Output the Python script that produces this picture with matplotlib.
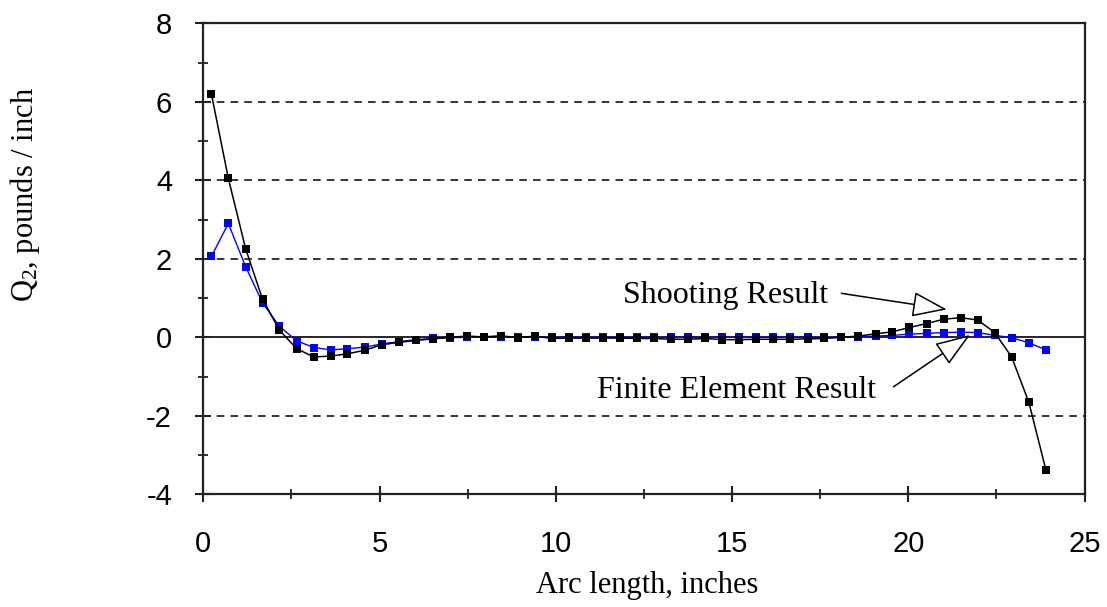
import matplotlib
matplotlib.use("Agg")
import matplotlib.pyplot as plt
from matplotlib.ticker import MultipleLocator

plt.rcParams['mathtext.fontset'] = 'custom'
plt.rcParams['mathtext.rm'] = 'Liberation Serif'
plt.rcParams['mathtext.it'] = 'Liberation Serif:italic'
plt.rcParams['axes.unicode_minus'] = False

# Arc length positions (inches)
arc_length = [0.23, 0.71, 1.20, 1.68, 2.16, 2.65, 3.13, 3.61, 4.09, 4.58,
              5.06, 5.54, 6.03, 6.51, 6.99, 7.48, 7.96, 8.44, 8.92, 9.41,
              9.89, 10.37, 10.86, 11.34, 11.82, 12.31, 12.79, 13.27, 13.75, 14.24,
              14.72, 15.20, 15.69, 16.17, 16.65, 17.14, 17.62, 18.10, 18.58, 19.07,
              19.55, 20.03, 20.52, 21.00, 21.48, 21.97, 22.45, 22.93, 23.42, 23.90]

# Shooting result (black)
shooting = [6.20, 4.05, 2.26, 0.97, 0.18, -0.29, -0.50, -0.48, -0.42, -0.33,
            -0.19, -0.13, -0.08, -0.04, 0.00, 0.03, 0.01, 0.04, -0.01, 0.03,
            -0.03, -0.02, -0.02, -0.02, -0.02, -0.03, -0.03, -0.05, -0.05, -0.03,
            -0.06, -0.06, -0.05, -0.05, -0.05, -0.04, -0.03, 0.00, 0.03, 0.09,
            0.14, 0.25, 0.35, 0.46, 0.50, 0.44, 0.12, -0.50, -1.66, -3.37]

# Finite element result (blue)
finite_element = [2.06, 2.90, 1.80, 0.88, 0.28, -0.09, -0.26, -0.32, -0.29, -0.25,
                  -0.17, -0.11, -0.06, -0.03, -0.01, 0.00, 0.00, 0.00, 0.00, 0.00,
                  0.00, 0.00, 0.00, 0.00, 0.00, 0.00, 0.00, 0.00, 0.00, 0.00,
                  0.00, 0.00, 0.00, 0.00, 0.00, 0.00, 0.00, 0.00, 0.01, 0.03,
                  0.05, 0.08, 0.10, 0.12, 0.13, 0.12, 0.05, -0.01, -0.14, -0.32]

x_ticks = [0, 5, 10, 15, 20, 25]
y_ticks = [-4, -2, 0, 2, 4, 6, 8]
dashed_levels = [-2, 2, 4, 6]

fig = plt.figure(figsize=(11.07, 6.07), dpi=100)
ax = fig.add_axes([203.3 / 1107, 1 - 494.3 / 607, (1084.6 - 203.3) / 1107, (494.3 - 23.3) / 607])

for lv in dashed_levels:
    ax.axhline(lv, color='black', lw=1.1, ls=(0, (5, 4)), zorder=1)
ax.axhline(0, color='black', lw=1.2, zorder=1)

ax.plot(arc_length, finite_element, color='#0000ff', lw=1.0, marker='s',
        markersize=5.8, markeredgewidth=0, zorder=3)
ax.plot(arc_length, shooting, color='black', lw=1.1, marker='s',
        markersize=5.8, markeredgewidth=0, zorder=4)

ax.set_xlim(0, 25)
ax.set_ylim(-4, 8)
ax.set_xticks(x_ticks)
ax.set_yticks(y_ticks)
ax.xaxis.set_minor_locator(MultipleLocator(2.5))
ax.yaxis.set_minor_locator(MultipleLocator(1))

for s in ax.spines.values():
    s.set_linewidth(1.6)
    s.set_color('#222222')

ax.tick_params(axis='both', which='major', direction='inout', length=11, width=1.5, colors='#222222')
ax.tick_params(axis='both', which='minor', direction='inout', length=7, width=1.3, colors='#222222')
ax.tick_params(axis='x', which='major', pad=20, labelsize=21)
ax.tick_params(axis='y', which='major', pad=17, labelsize=21)
for lab in ax.get_xticklabels() + ax.get_yticklabels():
    lab.set_fontfamily('Liberation Sans')
    lab.set_color('black')

fig.text(646.7 / 1107, 1 - 592.7 / 607, 'Arc length, inches', ha='center', va='baseline',
         fontsize=22, family='Liberation Serif')
fig.text(25 / 1107, 1 - 195 / 607, r'Q$_\mathrm{2}$, pounds / inch', ha='center', va='center',
         rotation=90, fontsize=22, family='Liberation Serif')

ax.text(11.9, 0.87, 'Shooting Result', ha='left', va='baseline', fontsize=23,
        family='Liberation Serif')
ax.text(11.17, -1.55, 'Finite Element Result', ha='left', va='baseline', fontsize=23,
        family='Liberation Serif')

arrow_kw = dict(arrowstyle='-|>,head_length=2.2,head_width=0.8', fc='white', ec='black',
                lw=1.1, mutation_scale=10, shrinkA=0, shrinkB=0)
ax.annotate('', xy=(21.09, 0.71), xytext=(18.1, 1.12), arrowprops=arrow_kw, zorder=5)
ax.annotate('', xy=(21.75, 0.06), xytext=(19.58, -1.26), arrowprops=arrow_kw, zorder=5)

fig.savefig('out.png', dpi=100)
